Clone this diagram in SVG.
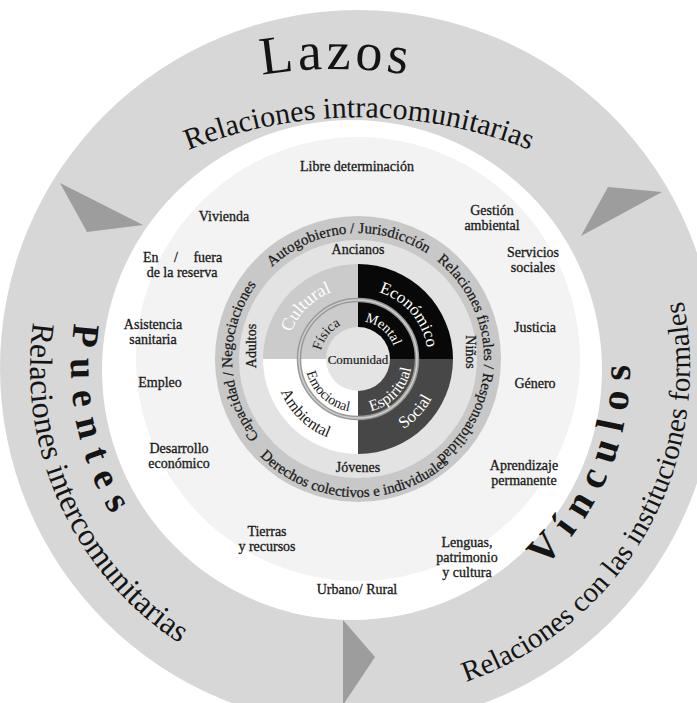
<svg xmlns="http://www.w3.org/2000/svg" width="697" height="703" viewBox="0 0 697 703">
<defs>
<style>
text { font-family: "Liberation Serif", "Times New Roman", serif; fill:#1a1a1a; }
.lbl { font-size:14px; text-anchor:middle; stroke:#1a1a1a; stroke-width:0.3px; }
.band { font-size:15px; stroke:#1a1a1a; stroke-width:0.25px; }
.outer { font-size:30px; fill:#141414; }
.title { font-size:40px; fill:#141414; }
.quad { font-size:17px; }
.inner { font-size:14px; }
.w { fill:#ffffff; stroke:none; }
.tri { fill:#9d9d9d; }
</style>
<path id="p-lazos" d="M36,183.6 A450,450 0 0 1 636,183.6"/>
<path id="p-intra" d="M59,228 A462,462 0 0 1 659,228"/>
<path id="p-puentes" d="M75.4,318.2 A287,287 0 0 0 138.2,552.5"/>
<path id="p-inter" d="M33.2,322.3 A328,328 0 0 0 301,691"/>
<path id="p-vinculos" d="M543.5,566.9 A272,272 0 0 0 625.9,320.8"/>
<path id="p-formales" d="M466.1,681.9 A332,332 0 0 0 658.9,227.7"/>
<path id="p-auto" d="M232.5,348 A126,126 0 0 1 479.7,326.4"/>
<path id="p-fisc" d="M379.9,234.9 A126,126 0 0 1 379.9,483.1"/>
<path id="p-der" d="M221.3,378.2 A138,138 0 0 0 493,387.7"/>
<path id="p-cap" d="M338.3,483.4 A126,126 0 0 1 334,235.3"/>
<path id="p-cult" d="M299,400.3 A72,72 0 0 1 399.3,300"/>
<path id="p-econ" d="M322,299 A70,70 0 0 1 412.4,403.1"/>
<path id="p-soc" d="M312.9,429.8 A84,84 0 0 0 424.6,307.9"/>
<path id="p-amb" d="M288.4,312 A84,84 0 0 0 407.4,427"/>
<path id="p-fis" d="M329.8,384.4 A38,38 0 0 1 375.8,325.4"/>
<path id="p-men" d="M333.6,329.9 A38,38 0 0 1 390.9,378"/>
<path id="p-esp" d="M328.6,404.3 A54,54 0 0 0 401.1,326.5"/>
<path id="p-emo" d="M313.3,330.5 A53,53 0 0 0 390.3,401"/>
</defs>
<rect width="697" height="703" fill="#ffffff"/>

<g id="outer-ring">
<path fill="#d7d7d7" fill-rule="evenodd" d="M0,368 A358,358 0 1 0 716,368 A358,358 0 1 0 0,368 Z M102,370 A250,250 0 1 0 602,370 A250,250 0 1 0 102,370 Z"/>
</g>

<g id="connectors">
<polygon class="tri" points="60,183 143,225 87,232"/>
<polygon class="tri" points="608,187 662,192 581,236"/>
<polygon class="tri" points="343,620 375,657 343,705"/>
</g>

<g id="lazos">
<text class="title" style="font-size:54px;letter-spacing:4px"><textPath href="#p-lazos" startOffset="50%" text-anchor="middle">Lazos</textPath></text>
<text class="outer"><textPath href="#p-intra" startOffset="50%" text-anchor="middle">Relaciones intracomunitarias</textPath></text>
</g>

<g id="puentes">
<text class="title" style="font-size:38px;font-weight:bold;letter-spacing:12px"><textPath href="#p-puentes" startOffset="5">Puentes</textPath></text>
<text class="outer" style="font-size:32px"><textPath href="#p-inter">Relaciones intercomunitarias</textPath></text>
</g>

<g id="vinculos">
<text class="title" style="font-weight:bold;letter-spacing:11px"><textPath href="#p-vinculos">Vínculos</textPath></text>
<text class="outer" style="font-size:29px"><textPath href="#p-formales">Relaciones con las instituciones formales</textPath></text>
</g>

<g id="disk">
<circle cx="358" cy="359" r="222" fill="#f3f3f3"/>
</g>

<g id="labels">
<text class="lbl" x="357" y="171">Libre determinación</text>
<text class="lbl" x="224" y="221">Vivienda</text>
<text class="lbl" x="492" y="215">Gestión</text>
<text class="lbl" x="492" y="230">ambiental</text>
<text class="lbl" x="533" y="257">Servicios</text>
<text class="lbl" x="533" y="272">sociales</text>
<text class="lbl" x="143" y="262" style="text-anchor:start;word-spacing:12px">En / fuera</text>
<text class="lbl" x="182" y="277">de la reserva</text>
<text class="lbl" x="153" y="329">Asistencia</text>
<text class="lbl" x="153" y="344">sanitaria</text>
<text class="lbl" x="535" y="332">Justicia</text>
<text class="lbl" x="160" y="387">Empleo</text>
<text class="lbl" x="535" y="388">Género</text>
<text class="lbl" x="179" y="453">Desarrollo</text>
<text class="lbl" x="179" y="468">económico</text>
<text class="lbl" x="524" y="470">Aprendizaje</text>
<text class="lbl" x="524" y="485">permanente</text>
<text class="lbl" x="267" y="536">Tierras</text>
<text class="lbl" x="267" y="551">y recursos</text>
<text class="lbl" x="467" y="547">Lenguas,</text>
<text class="lbl" x="467" y="562">patrimonio</text>
<text class="lbl" x="467" y="577">y cultura</text>
<text class="lbl" x="357" y="594">Urbano/ Rural</text>
</g>

<g id="band">
<circle cx="358" cy="359" r="143" fill="#c8c8c8"/>
<text class="band"><textPath href="#p-auto" startOffset="50%" text-anchor="middle">Autogobierno / Jurisdicción</textPath></text>
<text class="band"><textPath href="#p-fisc" startOffset="50%" text-anchor="middle">Relaciones fiscales / Responsabilidad</textPath></text>
<text class="band"><textPath href="#p-der" startOffset="50%" text-anchor="middle">Derechos colectivos e individuales</textPath></text>
<text class="band"><textPath href="#p-cap" startOffset="50%" text-anchor="middle">Capacidad / Negociaciones</textPath></text>
</g>

<g id="generations">
<circle cx="358" cy="359" r="119" fill="#e3e3e3"/>
<text class="lbl" x="358" y="254">Ancianos</text>
<text class="lbl" x="358" y="472">Jóvenes</text>
<text class="lbl" transform="translate(466,352) rotate(90)">Niños</text>
<text class="lbl" transform="translate(256,346) rotate(-90)">Adultos</text>
</g>

<g id="quadrants">
<path d="M358,359 L263,359 A95,95 0 0 1 358,264 Z" fill="#cbcbcb"/>
<path d="M358,359 L358,264 A95,95 0 0 1 453,359 Z" fill="#080808"/>
<path d="M358,359 L453,359 A95,95 0 0 1 358,454 Z" fill="#474747"/>
<path d="M358,359 L358,454 A95,95 0 0 1 263,359 Z" fill="#ffffff"/>
<text class="quad w" style="font-size:18px"><textPath href="#p-cult" startOffset="50%" text-anchor="middle">Cultural</textPath></text>
<text class="quad w"><textPath href="#p-econ" startOffset="50%" text-anchor="middle">Económico</textPath></text>
<text class="quad w"><textPath href="#p-soc" startOffset="50%" text-anchor="middle">Social</textPath></text>
<text class="quad" style="font-size:16px"><textPath href="#p-amb" startOffset="50%" text-anchor="middle">Ambiental</textPath></text>
</g>

<g id="wellbeing">
<circle cx="358" cy="359" r="59" fill="none" stroke="#999999" stroke-width="4.5"/>
<circle cx="358" cy="359" r="59" fill="none" stroke="#d0d0d0" stroke-width="1.5"/>
<text class="inner"><textPath href="#p-fis" startOffset="50%" text-anchor="middle">Física</textPath></text>
<text class="inner w"><textPath href="#p-men" startOffset="50%" text-anchor="middle">Mental</textPath></text>
<text class="inner w" style="font-size:16px"><textPath href="#p-esp" startOffset="50%" text-anchor="middle">Espiritual</textPath></text>
<text class="inner"><textPath href="#p-emo" startOffset="50%" text-anchor="middle">Emocional</textPath></text>
</g>

<g id="comunidad">
<circle cx="358" cy="359" r="32" fill="#e4e4e4"/>
<text class="lbl" x="358" y="364" style="font-size:13px;stroke-width:0.2px">Comunidad</text>
</g>
</svg>
